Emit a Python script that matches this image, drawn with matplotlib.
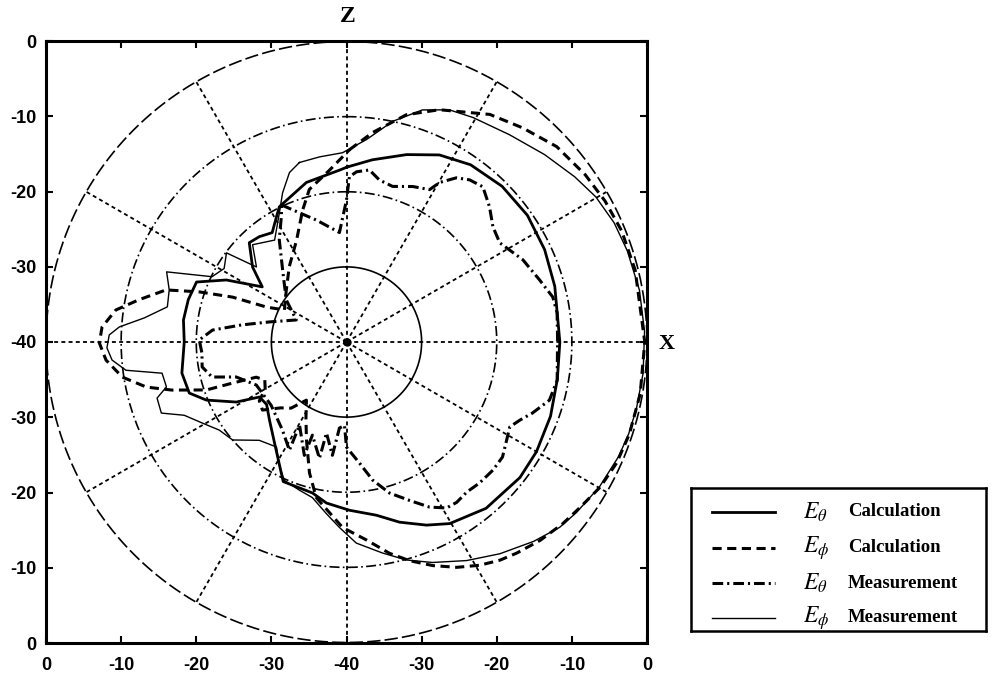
import numpy as np
import matplotlib
matplotlib.use('Agg')
import matplotlib.pyplot as plt

plt.rcParams['font.family'] = 'Liberation Sans'
plt.rcParams['mathtext.fontset'] = 'stix'

# grid: dB rings and spoke directions (degrees from Z, clockwise toward X)
ring_levels = [-30, -20, -10, 0]
spoke_angles = list(range(0, 360, 30))

tick_pos = [-40, -30, -20, -10, 0, 10, 20, 30, 40]
tick_text = ['0', '-10', '-20', '-30', '-40', '-30', '-20', '-10', '0']

# E_theta calculation
eth_calc_ang = [0.3, 8.1, 17.8, 26.4, 35, 45, 55, 65, 75, 90, 100, 110, 120, 128,
                140, 150.4, 156.4, 163.6, 170.2, 179, 187.1, 192.7, 204.4, 215.5,
                224.6, 232, 237.7, 241.4, 247.5, 252, 259.3, 270, 277.7, 285, 291.8,
                297.3, 303.2, 308.6, 315.6, 320.4, 325.8, 330.8, 333.6, 345.9, 357.7]
eth_calc_db = [-16.7, -15.5, -13.8, -12.2, -11.2, -10.7, -10.6, -10.9, -11.3, -11.6,
               -11.5, -11.1, -10.8, -10.7, -11.1, -12.2, -13.4, -15.0, -16.6, -17.6,
               -18.4, -19.4, -19.6, -23.5, -25.4, -26.5, -26.3, -23.3, -19.8, -18.0,
               -17.7, -18.4, -18.1, -18.2, -18.5, -22.0, -26.6, -24.0, -21.5, -21.8,
               -22.4, -20.9, -19.9, -18.1, -17.1]

# E_phi calculation
eph_calc_ang = [0.9, 7.1, 14.8, 21.8, 32.2, 39.4, 47.1, 55, 61.4, 68, 76, 90, 100, 108,
                114.1, 119.8, 125.3, 130, 135.7, 141.1, 144.9, 149.2, 153.9, 158.9,
                163.9, 168.5, 174.2, 181.2, 191, 195.8, 202.2, 208, 214.6, 220, 225,
                231, 236, 240, 245, 248.7, 250.2, 251.1, 254.6, 257.3, 261.1, 265.7,
                269.8, 273.5, 277.9, 281.5, 286.1, 288.8, 291.5, 293.6, 297.3, 310.9,
                322.8, 333.9, 341.6, 346.3, 354.4]
eph_calc_db = [-14.4, -11.9, -8.7, -6.7, -4.2, -3.1, -1.8, -1.2, -0.8, -0.5, -0.4, -0.3,
               -0.3, -0.4, -0.6, -1.1, -1.9, -2.4, -3.1, -3.9, -4.5, -5.4, -6.6, -8.1,
               -9.7, -11.3, -13.5, -15.3, -18.9, -21.9, -25.9, -28.5, -30.6, -28.5,
               -27.6, -25.6, -26.0, -27.5, -28.0, -27.1, -23.8, -20.3, -15.9, -12.7,
               -9.8, -7.9, -7.1, -7.4, -9.0, -11.8, -15.0, -19.3, -23.7, -28.4, -30.7,
               -29.4, -27.4, -24.9, -21.5, -19.1, -17.0]

# E_theta measurement (in trace order)
eth_meas_ang = [334.6, 340, 346.2, 356.3, 0, 1.0, 3.4, 7.6, 11.5, 16.5, 23.1, 28.6,
                30.3, 33.8, 37.2, 41.3, 46.6, 51.8, 57.1, 65, 72.2, 77.7, 82.1, 89.5,
                100.3, 106, 110.9, 114.3, 117.5, 121.5, 126.4, 131.2, 136.7, 141.3,
                145.5, 148.9, 153.3, 158.3, 164.1, 169.3, 173.9, 180, 181.4, 184.7,
                187.1, 192.4, 193.1, 200.1, 200.4, 209.5, 207.8, 216, 230, 244.5,
                252.4, 255.4, 260.2, 265.6, 270.8, 275.1, 279.3, 284.6, 293.7, 305,
                318.4, 326.7, 332.9]
eth_meas_db = [-19.8, -21.7, -23.3, -25.4, -21.1, -18.0, -17.3, -16.9, -18.0, -18.4,
               -17.5, -16.9, -15.4, -13.7, -12.9, -12.5, -13.8, -15.2, -15.7, -14.1,
               -13.0, -11.9, -11.7, -11.9, -11.5, -11.9, -13.5, -14.7, -15.5, -15.0,
               -14.2, -14.1, -14.2, -14.4, -14.1, -14.2, -15.4, -17.3, -19.1, -21.3,
               -23.8, -26.0, -28.9, -28.5, -24.8, -27.6, -24.1, -26.8, -23.9, -27.3,
               -23.7, -25.5, -26.9, -26.7, -24.6, -21.5, -20.5, -20.7, -20.4, -22.1,
               -25.9, -29.4, -32.7, -30.2, -27.2, -23.7, -21.0]

# E_phi measurement (in trace order)
eph_meas_ang = [345.3, 351.7, 358.8, 5.7, 11.8, 18.1, 23.9, 29.4, 38.2, 46.6, 54.1,
                59.8, 66, 72, 80, 88, 96, 103, 108, 112.8, 119.8, 126.6, 131, 136.8,
                144.1, 151.2, 158.7, 164.6, 170.3, 177.2, 182.2, 186.7, 192.4, 197.6,
                204.2, 208.6, 213.7, 221.6, 229.3, 235.3, 240.6, 245.7, 249, 253.5,
                256, 260.4, 262.7, 265.6, 268.6, 271.7, 273.8, 276.8, 281.1, 286.4,
                291.3, 295.9, 301, 306.6, 309.8, 316, 324.8, 332.6, 336.8, 341.4]
eph_meas_db = [-15.3, -15.1, -14.8, -12.9, -10.0, -7.5, -6.2, -5.7, -4.9, -3.7, -2.5,
               -1.6, -1.0, -0.7, -0.4, -0.3, -0.3, -0.4, -0.5, -0.7, -1.2, -1.9, -2.4,
               -3.6, -5.2, -6.8, -8.5, -9.9, -11.5, -13.2, -15.3, -17.0, -18.8, -19.3,
               -19.8, -21.3, -23.2, -22.5, -20.0, -19.4, -18.0, -16.3, -13.6, -13.7,
               -15.3, -15.1, -10.4, -8.7, -8.1, -8.4, -9.7, -12.9, -15.7, -15.4, -14.3,
               -20.1, -21.0, -20.1, -24.4, -22.0, -23.4, -20.6, -18.4, -16.2]

series = [
    (eth_calc_ang, eth_calc_db, '-', 2.0),
    (eph_calc_ang, eph_calc_db, (0, (3, 1.8)), 2.2),
    (eth_meas_ang, eth_meas_db, (0, (3.5, 1.3, 0.7, 1.3)), 2.2),
    (eph_meas_ang, eph_meas_db, '-', 1.0),
]
legend_syms = [r'$E_{\theta}$', r'$E_{\phi}$', r'$E_{\theta}$', r'$E_{\phi}$']
legend_words = ['Calculation', 'Calculation', 'Measurement', 'Measurement']

fig = plt.figure(figsize=(9.99, 6.8), dpi=100)
rect = [46 / 999, 1 - 643 / 680, 601 / 999, 602 / 680]

# square frame with dB ticks
ax = fig.add_axes(rect)
ax.set_xlim(-40, 40)
ax.set_ylim(-40, 40)
ax.set_xticks(tick_pos)
ax.set_xticklabels(tick_text)
ax.set_yticks(tick_pos)
ax.set_yticklabels(tick_text)
ax.tick_params(direction='in', length=5, width=1.5, top=True, right=True,
               labelsize=13)
ax.tick_params(axis='x', pad=10)
ax.tick_params(axis='y', pad=7)
for lbl in ax.get_xticklabels() + ax.get_yticklabels():
    lbl.set_fontweight('bold')
for s in ax.spines.values():
    s.set_linewidth(2.2)

# polar overlay for rings, spokes and patterns
pax = fig.add_axes(rect, projection='polar', zorder=2)
pax.set_facecolor('none')
pax.set_theta_zero_location('N')
pax.set_theta_direction(-1)
pax.set_xticks([])
pax.set_yticks([])
pax.grid(False)
pax.spines['polar'].set_visible(False)
pax.set_ylim(-40, 0)

full = np.linspace(0, 2 * np.pi, 721)
ring_ls = ['-', (0, (6, 2, 1, 2)), (0, (6, 2, 1, 2)), (0, (8, 2.5))]
for lvl, ls in zip(ring_levels, ring_ls):
    pax.plot(full, np.full_like(full, lvl), color='k', lw=1.2, ls=ls, clip_on=False)
for a in spoke_angles:
    pax.plot([np.radians(a)] * 2, [-40, 0], color='k', lw=1.3,
             ls=(0, (2.2, 1.8)), clip_on=False)
pax.plot([0], [-40], 'o', color='k', ms=5)

for ang, db, ls, lw in series:
    th = np.radians(np.append(ang, ang[0]))
    r = np.append(db, db[0])
    pax.plot(th, r, color='k', ls=ls, lw=lw, clip_on=False)

fig.text(348 / 999, 1 - 17 / 680, 'Z', family='Liberation Serif', weight='bold',
         size=17, ha='center', va='center')
fig.text(667 / 999, 1 - 344 / 680, 'X', family='Liberation Serif', weight='bold',
         size=16, ha='center', va='center')

# legend box
lax = fig.add_axes([691 / 999, 1 - 631 / 680, 295 / 999, 143 / 680])
lax.set_xlim(0, 295)
lax.set_ylim(143, 0)
lax.set_xticks([])
lax.set_yticks([])
for s in lax.spines.values():
    s.set_linewidth(1.8)
rows = [24, 60, 95, 130]
for (ang, db, ls, lw), sym, word, y in zip(series, legend_syms, legend_words, rows):
    lax.plot([21, 84], [y, y], color='k', ls=ls, lw=lw)
    lax.text(112, y, sym, fontsize=17, ha='left', va='center')
    lax.text(157, y, word, family='Liberation Serif', weight='bold', fontsize=13.5,
             ha='left', va='center')

fig.savefig('out.png', dpi=100)
